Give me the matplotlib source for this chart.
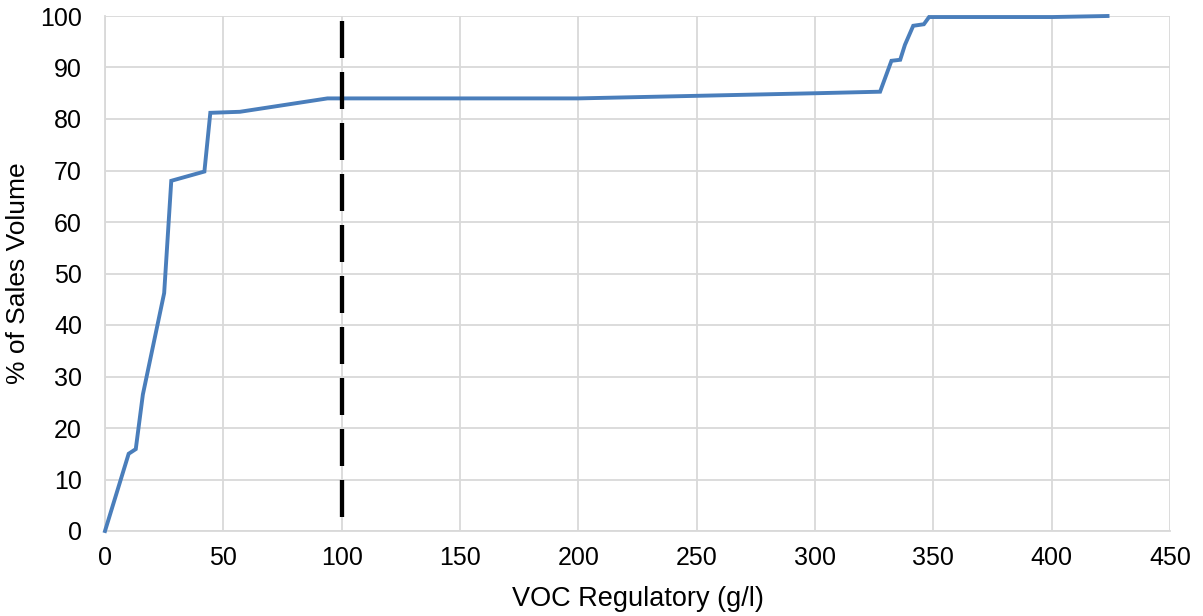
import matplotlib
matplotlib.use("Agg")
import matplotlib.pyplot as plt

plt.rcParams['font.family'] = ['Liberation Sans', 'DejaVu Sans']

voc = [0, 10, 13, 16, 25, 28, 42, 44.5, 57, 94, 200, 250, 300, 327.5, 332.3, 336, 338, 341.5, 346, 348.2, 400.5, 423.6]
sales = [0, 15, 15.9, 26.5, 46.2, 68.0, 69.8, 81.2, 81.4, 84.0, 84.0, 84.5, 85.0, 85.3, 91.3, 91.5, 94.4, 98.1, 98.4, 99.8, 99.8, 100]
limit_x = [100, 100]
limit_y = [0, 100]
xticks = [0, 50, 100, 150, 200, 250, 300, 350, 400, 450]
yticks = [0, 10, 20, 30, 40, 50, 60, 70, 80, 90, 100]

fig = plt.figure(figsize=(12.03, 6.16), dpi=100)
ax = fig.add_axes([105/1203, 1-531/616, (1170-105)/1203, (531-16)/616])

blue_lw = 2.8
dash_lw = 3.1
k = 0.72 / dash_lw
ax.plot(voc, sales, color='#4A7EBB', lw=blue_lw, clip_on=False, zorder=3, solid_joinstyle='miter')
ax.plot(limit_x, limit_y, color='black', lw=dash_lw, zorder=4, clip_on=False, dash_capstyle='butt',
        linestyle=(37 * k, (37 * k, 14 * k)))

ax.set_xlim(0, 450)
ax.set_ylim(0, 100)
ax.set_xticks(xticks)
ax.set_yticks(yticks)
ax.grid(True, color='#D9D9D9', lw=1.3)
ax.set_axisbelow(True)
for s in ['top', 'right']:
    ax.spines[s].set_visible(False)
for s in ['left', 'bottom']:
    ax.spines[s].set_color('#D9D9D9')
    ax.spines[s].set_linewidth(1.3)
ax.tick_params(length=0, labelsize=18, colors='black')
ax.tick_params(axis='y', pad=16.5)
ax.tick_params(axis='x', pad=10.5)
ax.set_xlabel('VOC Regulatory (g/l)', fontsize=19.5, labelpad=11.5)
ax.set_ylabel('% of Sales Volume', fontsize=19, labelpad=7)

fig.savefig('out.png', dpi=100)
